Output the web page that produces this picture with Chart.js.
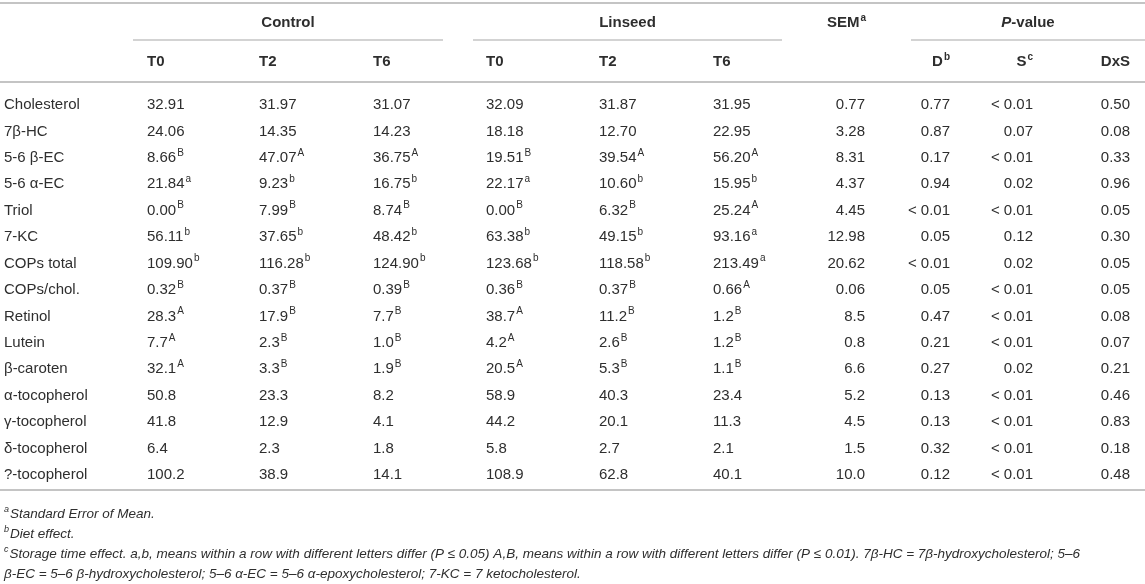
<!DOCTYPE html>
<html>
<head>
<meta charset="utf-8">
<style>
  html, body { margin: 0; padding: 0; background: #fff; }
  #wrap { width: 1145px; height: 584px; }
</style>
</head>
<body>
<div id="wrap"><canvas id="myChart" width="1145" height="584"></canvas></div>

<script src="https://cdn.jsdelivr.net/npm/chart.js"></script>
<script>
// table data
const rowLabels = ['Cholesterol', '7β-HC', '5-6 β-EC', '5-6 α-EC', 'Triol', '7-KC', 'COPs total', 'COPs/chol.',
  'Retinol', 'Lutein', 'β-caroten', 'α-tocopherol', 'γ-tocopherol', 'δ-tocopherol', '?-tocopherol'];
const decimals = [2, 2, 2, 2, 2, 2, 2, 2, 1, 1, 1, 1, 1, 1, 1];

const controlT0 = [32.91, 24.06, 8.66, 21.84, 0.00, 56.11, 109.90, 0.32, 28.3, 7.7, 32.1, 50.8, 41.8, 6.4, 100.2];
const controlT0Sup = ['', '', 'B', 'a', 'B', 'b', 'b', 'B', 'A', 'A', 'A', '', '', '', ''];
const controlT2 = [31.97, 14.35, 47.07, 9.23, 7.99, 37.65, 116.28, 0.37, 17.9, 2.3, 3.3, 23.3, 12.9, 2.3, 38.9];
const controlT2Sup = ['', '', 'A', 'b', 'B', 'b', 'b', 'B', 'B', 'B', 'B', '', '', '', ''];
const controlT6 = [31.07, 14.23, 36.75, 16.75, 8.74, 48.42, 124.90, 0.39, 7.7, 1.0, 1.9, 8.2, 4.1, 1.8, 14.1];
const controlT6Sup = ['', '', 'A', 'b', 'B', 'b', 'b', 'B', 'B', 'B', 'B', '', '', '', ''];

const linseedT0 = [32.09, 18.18, 19.51, 22.17, 0.00, 63.38, 123.68, 0.36, 38.7, 4.2, 20.5, 58.9, 44.2, 5.8, 108.9];
const linseedT0Sup = ['', '', 'B', 'a', 'B', 'b', 'b', 'B', 'A', 'A', 'A', '', '', '', ''];
const linseedT2 = [31.87, 12.70, 39.54, 10.60, 6.32, 49.15, 118.58, 0.37, 11.2, 2.6, 5.3, 40.3, 20.1, 2.7, 62.8];
const linseedT2Sup = ['', '', 'A', 'b', 'B', 'b', 'b', 'B', 'B', 'B', 'B', '', '', '', ''];
const linseedT6 = [31.95, 22.95, 56.20, 15.95, 25.24, 93.16, 213.49, 0.66, 1.2, 1.2, 1.1, 23.4, 11.3, 2.1, 40.1];
const linseedT6Sup = ['', '', 'A', 'b', 'A', 'a', 'a', 'A', 'B', 'B', 'B', '', '', '', ''];

const sem = [0.77, 3.28, 8.31, 4.37, 4.45, 12.98, 20.62, 0.06, 8.5, 0.8, 6.6, 5.2, 4.5, 1.5, 10.0];
const pDiet = [0.77, 0.87, 0.17, 0.94, '< 0.01', 0.05, '< 0.01', 0.05, 0.47, 0.21, 0.27, 0.13, 0.13, 0.32, 0.12];
const pStorage = ['< 0.01', 0.07, '< 0.01', 0.02, '< 0.01', 0.12, 0.02, '< 0.01', '< 0.01', '< 0.01', 0.02,
  '< 0.01', '< 0.01', '< 0.01', '< 0.01'];
const pInter = [0.50, 0.08, 0.33, 0.96, 0.05, 0.30, 0.05, 0.05, 0.08, 0.07, 0.21, 0.46, 0.83, 0.18, 0.48];

const timeLabels = ['T0', 'T2', 'T6'];

const footnotes = [
  ['a', 'Standard Error of Mean.'],
  ['b', 'Diet effect.'],
  ['c', 'Storage time effect. a,b, means within a row with different letters differ (P ≤ 0.05) A,B, means within a row with different letters differ (P ≤ 0.01). 7β-HC = 7β-hydroxycholesterol; 5–6'],
  ['', 'β-EC = 5–6 β-hydroxycholesterol; 5–6 α-EC = 5–6 α-epoxycholesterol; 7-KC = 7 ketocholesterol.']
];

// layout (pixel anchors on the x scale)
const FONT = '"Liberation Sans", Arial, Helvetica, sans-serif';
const TEXT = '#2e2e2e';
const RULE = '#c4c4c4';
const columns = [
  { x: 4, align: 'left', label: true },
  { x: 147, align: 'left', vals: controlT0, sups: controlT0Sup },
  { x: 259, align: 'left', vals: controlT2, sups: controlT2Sup },
  { x: 373, align: 'left', vals: controlT6, sups: controlT6Sup },
  { x: 486, align: 'left', vals: linseedT0, sups: linseedT0Sup },
  { x: 599, align: 'left', vals: linseedT2, sups: linseedT2Sup },
  { x: 713, align: 'left', vals: linseedT6, sups: linseedT6Sup },
  { x: 865, align: 'right', vals: sem },
  { x: 950, align: 'right', vals: pDiet, pval: true },
  { x: 1033, align: 'right', vals: pStorage, pval: true },
  { x: 1130, align: 'right', vals: pInter, pval: true }
];

// draws text with optional superscript, left / center / right anchored
function drawSup(ctx, x, y, main, sup, mainFont, supFont, align) {
  ctx.font = mainFont;
  let w1 = ctx.measureText(main).width;
  ctx.font = supFont;
  let w2 = sup ? ctx.measureText(sup).width + 1 : 0;
  let start = align === 'right' ? x - w1 - w2 : (align === 'center' ? x - (w1 + w2) / 2 : x);
  ctx.font = mainFont;
  ctx.fillText(main, start, y);
  if (sup) {
    ctx.font = supFont;
    ctx.fillText(sup, start + w1 + 1, y - 5);
  }
}

function hline(ctx, x1, x2, y, w) {
  ctx.strokeStyle = RULE;
  ctx.lineWidth = w;
  ctx.beginPath();
  ctx.moveTo(x1, y);
  ctx.lineTo(x2, y);
  ctx.stroke();
}

const tablePlugin = {
  id: 'tableText',
  afterDraw(chart) {
    const ctx = chart.ctx;
    const xs = chart.scales.x;
    const ys = chart.scales.y;
    const px = v => xs.getPixelForValue(v);
    ctx.save();
    ctx.fillStyle = TEXT;
    ctx.textBaseline = 'middle';
    ctx.textAlign = 'left';

    // rules
    hline(ctx, 0, 1145, 3, 2);
    hline(ctx, px(133), px(443), 40, 1.5);
    hline(ctx, px(473), px(782), 40, 1.5);
    hline(ctx, px(911), px(1145), 40, 1.5);
    hline(ctx, 0, 1145, 82, 2);
    hline(ctx, 0, 1145, 490, 2);

    // group headers
    const bold = 'bold 15px ' + FONT;
    const boldSup = 'bold 10px ' + FONT;
    drawSup(ctx, (px(133) + px(443)) / 2, 23, 'Control', '', bold, boldSup, 'center');
    drawSup(ctx, (px(473) + px(782)) / 2, 23, 'Linseed', '', bold, boldSup, 'center');
    drawSup(ctx, px(866), 23, 'SEM', 'a', bold, boldSup, 'right');
    ctx.font = 'italic bold 15px ' + FONT;
    let wP = ctx.measureText('P').width;
    ctx.font = bold;
    let wRest = ctx.measureText('-value').width;
    let cx = (px(911) + px(1145)) / 2 - (wP + wRest) / 2;
    ctx.font = 'italic bold 15px ' + FONT;
    ctx.fillText('P', cx, 23);
    ctx.font = bold;
    ctx.fillText('-value', cx + wP, 23);

    // sub headers
    for (let k = 0; k < 6; k++) {
      drawSup(ctx, px(columns[k + 1].x), 62, timeLabels[k % 3], '', bold, boldSup, 'left');
    }
    drawSup(ctx, px(950), 62, 'D', 'b', bold, boldSup, 'right');
    drawSup(ctx, px(1033), 62, 'S', 'c', bold, boldSup, 'right');
    drawSup(ctx, px(1130), 62, 'DxS', '', bold, boldSup, 'right');

    // body cells
    const reg = '15px ' + FONT;
    const regSup = '10px ' + FONT;
    rowLabels.forEach((lab, i) => {
      const y = ys.getPixelForValue(i);
      columns.forEach(col => {
        let txt, sup = '';
        if (col.label) {
          txt = lab;
        } else if (col.pval) {
          const v = col.vals[i];
          txt = typeof v === 'number' ? v.toFixed(2) : v;
        } else {
          txt = col.vals[i].toFixed(decimals[i]);
          sup = col.sups ? col.sups[i] : '';
        }
        drawSup(ctx, px(col.x), y, txt, sup, reg, regSup, col.align);
      });
    });

    // footnotes
    const it = 'italic 13.5px ' + FONT;
    const itSup = 'italic 9px ' + FONT;
    footnotes.forEach((f, j) => {
      const y = 514 + j * 20;
      ctx.font = itSup;
      let w = f[0] ? ctx.measureText(f[0]).width + 1 : 0;
      if (f[0]) ctx.fillText(f[0], 4, y - 5);
      ctx.font = it;
      ctx.fillText(f[1], 4 + w, y);
    });
    ctx.restore();
  }
};

let ctx = document.getElementById('myChart').getContext('2d');
let chart = new Chart(ctx, {
  type: 'scatter',
  data: { datasets: [] },
  options: {
    responsive: false,
    animation: false,
    devicePixelRatio: 1,
    layout: { padding: { top: 105, bottom: 584 - 475, left: 0, right: 0 } },
    plugins: { legend: { display: false }, tooltip: { enabled: false } },
    scales: {
      x: { type: 'linear', min: 0, max: 1145, display: false },
      y: { type: 'category', labels: rowLabels, offset: false, display: false }
    }
  },
  plugins: [tablePlugin]
});
</script>
</body>
</html>
